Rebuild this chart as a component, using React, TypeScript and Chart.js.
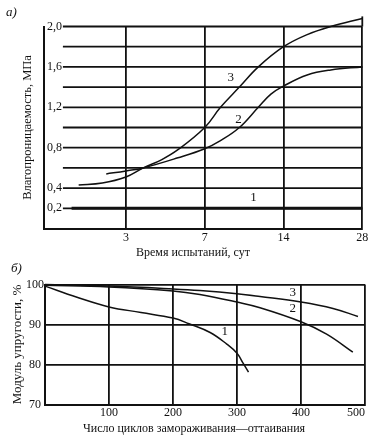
import React, { useEffect, useRef } from "react";
import { Chart, registerables } from "chart.js";

Chart.register(...registerables);

const INK = "#111111";
const SERIF = "'Liberation Serif', 'DejaVu Serif', serif";

// ---------- Panel а) ----------
const timeCategories = ["3", "7", "14", "28"];
const timePositions = [1, 2, 3, 4];
const permeabilityGrid = [0.2, 0.4, 0.6, 0.8, 1.0, 1.2, 1.4, 1.6, 1.8, 2.0];
const permeabilityLabels = [0.2, 0.4, 0.8, 1.2, 1.6, 2.0];

const curveA1X = [0.31, 4.0];
const curveA1Y = [0.2, 0.2];
const curveA2X = [0.75, 1.0, 1.22, 1.66, 2.0, 2.2, 2.44, 2.68, 2.84, 3.0, 3.3, 3.6, 4.0];
const curveA2Y = [0.54, 0.57, 0.6, 0.7, 0.79, 0.87, 1.0, 1.2, 1.33, 1.41, 1.52, 1.57, 1.6];
const curveA3X = [0.4, 0.7, 1.0, 1.22, 1.45, 1.66, 2.0, 2.2, 2.44, 2.68, 3.0, 3.3, 3.6, 4.0, 4.05];
const curveA3Y = [0.43, 0.45, 0.51, 0.6, 0.68, 0.78, 1.0, 1.2, 1.4, 1.6, 1.8, 1.92, 2.0, 2.08, 2.09];
const curveALabels = ["1", "2", "3"];
const curveALabelX = [2.62, 2.43, 2.33];
const curveALabelY = [0.31, 1.08, 1.49];

// ---------- Panel б) ----------
const cyclesTicks = [0, 100, 200, 300, 400, 500];
const modulusTicks = [70, 80, 90, 100];
const curveB1X = [0, 50, 100, 150, 200, 225, 258, 284, 300, 310, 318];
const curveB1Y = [99.6, 96.8, 94.4, 93.0, 91.6, 90.2, 88.0, 85.1, 82.8, 80.2, 78.1];
const curveB2X = [0, 100, 200, 242, 300, 336, 400, 440, 481];
const curveB2Y = [99.8, 99.4, 98.4, 97.5, 95.6, 94.2, 90.7, 87.6, 83.1];
const curveB3X = [0, 100, 200, 242, 300, 336, 400, 450, 489];
const curveB3Y = [100, 99.6, 98.9, 98.5, 97.7, 97.0, 95.6, 94.0, 92.0];
const curveBLabels = ["1", "2", "3"];
const curveBLabelX = [281, 387, 387];
const curveBLabelY = [88.2, 94.1, 98.0];

const GRID_START = 0.2; // x (index units) where the horizontal grid of panel а) begins

function pts(xs: number[], ys: number[]) {
  return xs.map((x, i) => ({ x, y: ys[i] }));
}

function lineDs(xs: number[], ys: number[], width = 1.5) {
  return {
    data: pts(xs, ys),
    borderColor: INK,
    borderWidth: width,
    pointRadius: 0,
    fill: false,
    tension: 0.4,
    clip: false as any,
  };
}

function labelPlugin(texts: string[], xs: number[], ys: number[]) {
  return {
    id: "curveLabels",
    afterDatasetsDraw(chart: any) {
      const { ctx, scales } = chart;
      ctx.save();
      ctx.fillStyle = INK;
      ctx.font = `13px ${SERIF}`;
      ctx.textAlign = "center";
      ctx.textBaseline = "middle";
      texts.forEach((t, i) => {
        ctx.fillText(t, scales.x.getPixelForValue(xs[i]), scales.y.getPixelForValue(ys[i]));
      });
      ctx.restore();
    },
  };
}

const partialGridPlugin = {
  id: "partialGrid",
  beforeDatasetsDraw(chart: any) {
    const { ctx, scales } = chart;
    const x = scales.x;
    const y = scales.y;
    ctx.save();
    ctx.strokeStyle = INK;
    ctx.lineWidth = 1.8;
    const x0 = x.getPixelForValue(GRID_START);
    const x1 = x.getPixelForValue(timePositions[timePositions.length - 1]);
    permeabilityGrid.forEach((v) => {
      const py = y.getPixelForValue(v);
      ctx.beginPath();
      ctx.moveTo(x0, py);
      ctx.lineTo(x1, py);
      ctx.stroke();
    });
    ctx.beginPath();
    ctx.moveTo(x1, y.getPixelForValue(2.0));
    ctx.lineTo(x1, y.getPixelForValue(2.1));
    ctx.stroke();
    ctx.restore();
  },
};

export default function App() {
  const refA = useRef<HTMLCanvasElement>(null);
  const refB = useRef<HTMLCanvasElement>(null);

  useEffect(() => {
    const tickFont = { family: SERIF, size: 12, lineHeight: 1 };

    const chartA = new Chart(refA.current as HTMLCanvasElement, {
      type: "line",
      data: {
        datasets: [
          lineDs(curveA1X, curveA1Y, 3),
          lineDs(curveA2X, curveA2Y),
          lineDs(curveA3X, curveA3Y),
        ] as any,
      },
      options: {
        animation: false,
        responsive: false,
        devicePixelRatio: 1,
        layout: { padding: { left: 20.5, top: 26.5, right: 11.7, bottom: 186.9 } },
        plugins: { legend: { display: false }, tooltip: { enabled: false } },
        scales: {
          x: {
            type: "linear",
            min: -0.04,
            max: 4,
            afterBuildTicks: (s: any) => {
              s.ticks = timePositions.map((v) => ({ value: v }));
            },
            grid: { color: INK, lineWidth: 1.8, drawTicks: false },
            border: { display: true, color: INK, width: 2 },
            ticks: {
              padding: 3.8,
              color: INK,
              font: tickFont,
              maxRotation: 0,
              autoSkip: false,
              callback: (v: any) => {
                const i = timePositions.indexOf(Number(v));
                return i >= 0 ? timeCategories[i] : "";
              },
            },
          },
          y: {
            type: "linear",
            min: 0,
            max: 2.0,
            afterBuildTicks: (s: any) => {
              s.ticks = permeabilityLabels.map((v) => ({ value: v }));
            },
            grid: { display: false, drawTicks: false },
            border: { display: true, color: INK, width: 2 },
            ticks: {
              mirror: true,
              padding: 3,
              color: INK,
              font: tickFont,
              callback: (v: any) => Number(v).toFixed(1).replace(".", ","),
            },
            title: {
              display: true,
              text: "Влагопроницаемость, МПа",
              color: INK,
              font: { family: SERIF, size: 12.5, lineHeight: 1.2 },
              padding: { top: 0, bottom: 2.5 },
            },
          },
        },
      } as any,
      plugins: [partialGridPlugin, labelPlugin(curveALabels, curveALabelX, curveALabelY)],
    });

    const chartB = new Chart(refB.current as HTMLCanvasElement, {
      type: "line",
      data: {
        datasets: [
          lineDs(curveB1X, curveB1Y),
          lineDs(curveB2X, curveB2Y),
          lineDs(curveB3X, curveB3Y),
        ] as any,
      },
      options: {
        animation: false,
        responsive: false,
        devicePixelRatio: 1,
        layout: { padding: { left: 10.7, top: 284.5, right: 9, bottom: 12.9 } },
        plugins: { legend: { display: false }, tooltip: { enabled: false } },
        scales: {
          x: {
            type: "linear",
            min: 0,
            max: 500,
            afterBuildTicks: (s: any) => {
              s.ticks = cyclesTicks.map((v) => ({ value: v }));
            },
            grid: { color: INK, lineWidth: 1.8, drawTicks: false },
            border: { display: true, color: INK, width: 2 },
            ticks: {
              padding: 2.8,
              color: INK,
              font: tickFont,
              align: "inner",
              maxRotation: 0,
              autoSkip: false,
              callback: (v: any) => (Number(v) === 0 ? "" : String(v)),
            },
          },
          y: {
            type: "linear",
            min: 70,
            max: 100,
            afterBuildTicks: (s: any) => {
              s.ticks = modulusTicks.map((v) => ({ value: v }));
            },
            grid: { color: INK, lineWidth: 1.8, drawTicks: false },
            border: { display: true, color: INK, width: 2 },
            ticks: {
              padding: 1,
              color: INK,
              font: tickFont,
              crossAlign: "center",
              callback: (v: any) => String(v),
            },
            title: {
              display: true,
              text: "Модуль упругости, %",
              color: INK,
              font: { family: SERIF, size: 13, lineHeight: 1.1 },
              padding: { top: 0, bottom: 0 },
            },
          },
        },
      } as any,
      plugins: [labelPlugin(curveBLabels, curveBLabelX, curveBLabelY)],
    });

    return () => {
      chartA.destroy();
      chartB.destroy();
    };
  }, []);

  const abs: React.CSSProperties = { position: "absolute", left: 0, top: 0, width: 374, height: 435 };
  const txt: React.CSSProperties = {
    position: "absolute",
    whiteSpace: "nowrap",
    lineHeight: 1,
    color: INK,
    fontFamily: SERIF,
  };

  return (
    <div
      style={{
        position: "fixed",
        left: 0,
        top: 0,
        width: 374,
        height: 435,
        background: "#ffffff",
        overflow: "hidden",
      }}
    >
      <canvas ref={refA} width={374} height={435} style={abs} />
      <canvas ref={refB} width={374} height={435} style={abs} />
      <div style={{ ...txt, left: 6, top: 5, fontSize: 13, fontStyle: "italic" }}>а)</div>
      <div style={{ ...txt, left: 11, top: 261, fontSize: 13, fontStyle: "italic" }}>б)</div>
      <div style={{ ...txt, left: 193, top: 252, fontSize: 12, transform: "translate(-50%, -50%)" }}>
        Время испытаний, сут
      </div>
      <div style={{ ...txt, left: 194, top: 428, fontSize: 12, transform: "translate(-50%, -50%)" }}>
        Число циклов замораживания—оттаивания
      </div>
    </div>
  );
}
